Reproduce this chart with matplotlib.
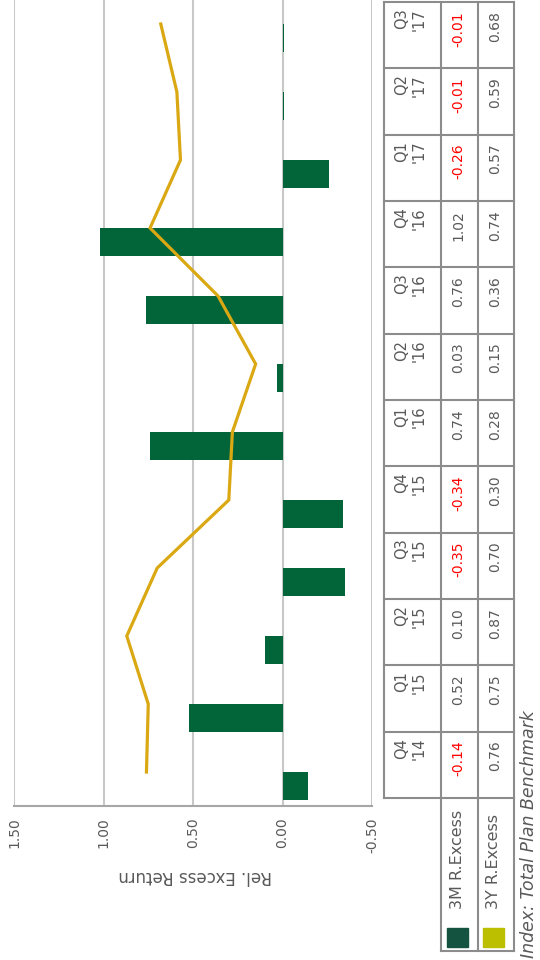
import matplotlib
matplotlib.use("Agg")
import matplotlib.pyplot as plt
from matplotlib.patches import Rectangle
import numpy as np

plt.rcParams['font.family'] = ['DejaVu Sans']

# ── data ────────────────────────────────────────────────────────────
quarters = ["Q4\n'14", "Q1\n'15", "Q2\n'15", "Q3\n'15", "Q4\n'15", "Q1\n'16",
            "Q2\n'16", "Q3\n'16", "Q4\n'16", "Q1\n'17", "Q2\n'17", "Q3\n'17"]
excess_3m = [-0.14, 0.52, 0.10, -0.35, -0.34, 0.74, 0.03, 0.76, 1.02, -0.26, -0.01, -0.01]
excess_3y = [0.76, 0.75, 0.87, 0.70, 0.30, 0.28, 0.15, 0.36, 0.74, 0.57, 0.59, 0.68]
value_ticks = [1.50, 1.00, 0.50, 0.00, -0.50]
series_names = ["3M R.Excess", "3Y R.Excess"]

BAR = "#02653A"
LINE = "#DAA812"
SW_3M = "#13533F"
SW_3Y = "#BCBE00"
GRID = "#C8C8C8"
TXT = "#595959"
BORDER = "#8C8C8C"

# The original landscape chart is shown turned 90 degrees, so draw it sideways
fig = plt.figure(figsize=(5.4, 9.6), dpi=100)
ax = fig.add_axes([14/540, 154/960, 358/540, 816/960])

pos = np.arange(len(quarters))
ax.barh(pos - 0.206, excess_3m, height=0.41, color=BAR, zorder=2)
ax.plot(excess_3y, pos, color=LINE, lw=2.3, zorder=3, solid_joinstyle="miter")

ax.set_xlim(1.5, -0.5)
ax.set_ylim(-0.5, 11.5)
ax.set_xticks(value_ticks)
ax.set_xticklabels([f"{v:.2f}" for v in value_ticks])
ax.set_yticks([])
ax.grid(axis="x", color=GRID, lw=1.5, zorder=0)
ax.set_axisbelow(True)
for s in ["top", "left", "right"]:
    ax.spines[s].set_visible(False)
ax.spines["bottom"].set_color("#A6A6A6")
ax.spines["bottom"].set_linewidth(1.5)
ax.tick_params(axis="x", length=0, pad=8, labelrotation=90, labelsize=10, labelcolor=TXT)

fig.text(195/540, 1 - 876/960, "Rel. Excess Return", rotation=180, ha="center", va="center",
         fontsize=12, color=TXT)

# ── data table (pixel coordinates overlay) ──────────────────────────
tab = fig.add_axes([0, 0, 1, 1])
tab.set_xlim(0, 540)
tab.set_ylim(960, 0)
tab.axis("off")

x_cols = [384, 441, 478, 514]
top, bottom = 2, 798
row_h = (bottom - top) / len(quarters)

for x in x_cols:
    tab.plot([x, x], [top, bottom], color=BORDER, lw=1.5)
for k in range(len(quarters) + 1):
    y = top + k * row_h
    tab.plot([x_cols[0], x_cols[-1]], [y, y], color=BORDER, lw=1.5)

for i, (q, a, b) in enumerate(zip(quarters, excess_3m, excess_3y)):
    rtop = bottom - (i + 1) * row_h
    tab.text(410, rtop + 6, q, rotation=90, ha="center", va="top", fontsize=10.5,
             color=TXT, multialignment="right", linespacing=1.2)
    tab.text(458, rtop + 9, f"{a:.2f}", rotation=90, ha="center", va="top", fontsize=10,
             color="#FF0000" if a < 0 else TXT)
    tab.text(495, rtop + 9, f"{b:.2f}", rotation=90, ha="center", va="top", fontsize=10,
             color="#FF0000" if b < 0 else TXT)

# legend cells below the table
leg_bottom = 951
for x in x_cols[1:]:
    tab.plot([x, x], [bottom, leg_bottom], color=BORDER, lw=1.5)
tab.plot([x_cols[1], x_cols[-1]], [leg_bottom, leg_bottom], color=BORDER, lw=1.5)
for xc, name, sw in zip([458, 494], series_names, [SW_3M, SW_3Y]):
    tab.add_patch(Rectangle((xc - 11, 928), 21, 19, color=sw))
    tab.text(xc, 909, name, rotation=90, ha="center", va="bottom", fontsize=11.5, color=TXT)

tab.text(529, 958, "Index: Total Plan Benchmark", rotation=90, ha="center", va="bottom",
         fontsize=12.5, style="italic", color=TXT)

fig.savefig("out.png", dpi=100)
